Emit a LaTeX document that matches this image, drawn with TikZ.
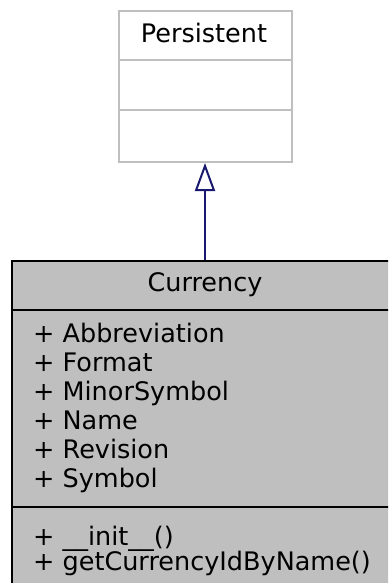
\documentclass[tikz,border=0pt]{standalone}
\usepackage{fontspec}
\setmainfont{DejaVu Sans}
\usetikzlibrary{arrows.meta}
\definecolor{boxgray}{HTML}{BFBFBF}
\definecolor{lightborder}{HTML}{BFBFBF}
\definecolor{edgeblue}{HTML}{191970}
\tikzset{
  classtext/.style={font=\fontsize{25.5}{29}\selectfont, inner sep=0pt},
  superbox/.style={draw=lightborder, fill=white, line width=2pt, inner sep=0pt},
  mainbox/.style={draw=black, fill=boxgray, line width=2pt, inner sep=0pt},
  inherit/.style={draw=edgeblue, line width=2pt, -{Triangle[open, length=28pt, width=20pt, line width=2pt]}}
}
\begin{document}
\begin{tikzpicture}[x=1pt,y=-1pt]
\useasboundingbox (0,0) rectangle (388,583);
\clip (0,0) rectangle (388,583);
% Persistent
\node[superbox, minimum width=173pt, minimum height=151pt, anchor=north west] (persistent) at (117.5,10) {};
\draw[lightborder, line width=2pt] (117.5,60) -- (290.5,60);
\draw[lightborder, line width=2pt] (117.5,110.5) -- (290.5,110.5);
\node[classtext, anchor=base] (ptitle) at (204,42.3) {Persistent};
% Currency
\node[mainbox, minimum width=388pt, minimum height=380pt, anchor=north west] (currency) at (11,260) {};
\draw[black, line width=2pt] (11,310) -- (399,310);
\draw[black, line width=2pt] (11,506.5) -- (399,506.5);
\node[classtext, anchor=base] (ctitle) at (205,291.7) {Currency};
\node[classtext, anchor=base west, align=left] (attrs) at (33,487.2) {+ Abbreviation\\+ Format\\+ MinorSymbol\\+ Name\\+ Revision\\+ Symbol};
\node[classtext, anchor=base west, align=left] (meths) at (33,570.5) {+ \_\_init\_\_()\\[-4pt]+ getCurrencyIdByName()};
% inheritance
\draw[inherit] (currency.north -| persistent.south) -- (persistent.south);
\end{tikzpicture}
\end{document}
